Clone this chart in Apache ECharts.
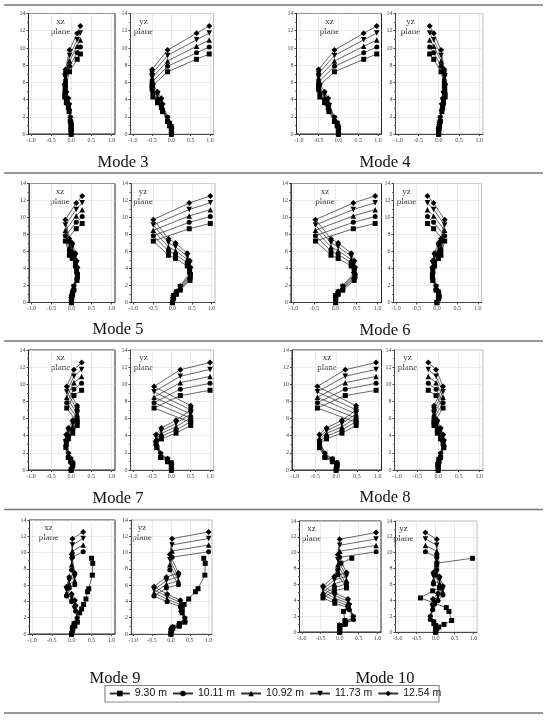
<!DOCTYPE html>
<html>
<head>
<meta charset="utf-8">
<title>Mode shapes 3-10</title>
<script src="https://cdn.jsdelivr.net/npm/echarts@6/dist/echarts.min.js"></script>
<style>
  html, body { margin: 0; padding: 0; background: #fff; }
  #chart { width: 550px; height: 720px; }
</style>
</head>
<body>
<div id="chart"></div>
<script>
// model heights (legend)
const seriesNames = ['9.30 m', '10.11 m', '10.92 m', '11.73 m', '12.54 m'];
const modeNames = ['Mode 3', 'Mode 4', 'Mode 5', 'Mode 6', 'Mode 7', 'Mode 8', 'Mode 9', 'Mode 10'];
const xTicks = [-1, -0.5, 0, 0.5, 1];

// node heights z (m) of every model, bottom to top
const z930  = [0, 0.44, 0.63, 0.96, 1.45, 2.60, 3.08, 3.63, 4.30, 5.19, 5.56, 7.23, 8.68, 9.30];
const z1011 = [0, 0.48, 0.69, 1.05, 1.57, 2.82, 3.35, 3.95, 4.68, 5.64, 6.05, 7.86, 9.43, 10.11];
const z1092 = [0, 0.52, 0.74, 1.13, 1.70, 3.05, 3.61, 4.27, 5.05, 6.10, 6.53, 8.49, 10.19, 10.92];
const z1173 = [0, 0.56, 0.80, 1.22, 1.82, 3.27, 3.88, 4.58, 5.43, 6.55, 7.02, 9.12, 10.94, 11.73];
const z1254 = [0, 0.60, 0.85, 1.30, 1.95, 3.50, 4.15, 4.90, 5.80, 7.00, 7.50, 9.75, 11.70, 12.54];

// normalised modal displacement at each node (same order as z)
const mode3xz = [0, 0, 0, 0, -0.02, -0.05, -0.07, -0.12, -0.16, -0.15, -0.14, -0.04, 0.15, 0.23];
const mode3yz = [0, 0, 0, -0.05, -0.1, -0.23, -0.26, -0.36, -0.48, -0.5, -0.5, -0.1, 0.65, 0.98];
const mode4xz = [0, 0, 0, -0.03, -0.1, -0.24, -0.26, -0.35, -0.47, -0.5, -0.5, -0.1, 0.64, 0.97];
const mode4yz = [0, 0, 0.01, 0.02, 0.04, 0.08, 0.1, 0.12, 0.16, 0.15, 0.14, 0.06, -0.12, -0.22];
const mode5xz = [0, 0, 0.01, 0.03, 0.06, 0.14, 0.15, 0.13, 0.1, 0.02, -0.05, -0.15, 0.12, 0.27];
const mode5yz = [0, 0.02, 0.03, 0.1, 0.2, 0.45, 0.46, 0.44, 0.38, 0.08, -0.1, -0.49, 0.43, 0.97];
const mode6xz = [0, 0, 0, 0.06, 0.17, 0.44, 0.46, 0.44, 0.37, 0.06, -0.11, -0.48, 0.42, 0.94];
const mode6yz = [0, 0.04, 0.05, 0.04, -0.02, -0.1, -0.11, -0.1, -0.06, 0.04, 0.1, 0.19, -0.08, -0.23];
const mode7xz = [0, 0.03, 0.04, -0.01, -0.07, -0.13, -0.12, -0.07, 0.04, 0.15, 0.15, -0.11, 0.07, 0.26];
const mode7yz = [0, 0, 0, -0.1, -0.28, -0.38, -0.4, -0.26, 0.12, 0.5, 0.5, -0.45, 0.23, 1.0];
const mode8xz = [0, 0.02, 0.02, -0.09, -0.27, -0.4, -0.4, -0.23, 0.14, 0.48, 0.48, -0.45, 0.22, 0.96];
const mode8yz = [0, 0, 0, 0.02, 0.06, 0.14, 0.12, 0.06, -0.02, -0.1, -0.1, 0.12, -0.05, -0.24];
const mode9xz = [0, 0.02, 0.02, 0.06, 0.14, 0.1, 0.08, 0.0, -0.13, -0.06, 0.08, 0.0, 0.02, 0.29];
const mode9xz930 = [0, 0.02, 0.03, 0.08, 0.14, 0.2, 0.25, 0.3, 0.36, 0.4, 0.43, 0.52, 0.53, 0.5];
const mode9yz = [0, 0.02, 0.05, 0.22, 0.37, 0.27, 0.25, -0.1, -0.45, -0.12, 0.2, -0.03, 0.03, 1.0];
const mode9yz930 = [0, 0.0, 0.02, 0.22, 0.37, 0.3, 0.3, 0.35, 0.47, 0.65, 0.72, 0.9, 0.91, 0.87];
const mode10xz = [0, 0, 0, 0.16, 0.36, 0.25, 0.22, -0.13, -0.44, -0.14, 0.18, -0.05, 0.0, 0.96];
const mode10xz930 = [0, 0, 0, 0.14, 0.14, 0.1, 0.22, -0.13, -0.44, -0.14, 0.18, -0.05, 0.03, 0.32];
const mode10yz = [0, 0, 0, -0.05, -0.14, -0.08, -0.07, 0.06, 0.19, 0.1, -0.06, 0.03, 0.03, -0.27];
const mode10yz930 = [0, 0.03, 0.08, 0.22, 0.42, 0.35, 0.28, -0.03, -0.4, -0.08, 0.1, 0.0, 0.03, 0.97];

const zLevels = [z930, z1011, z1092, z1173, z1254];
// x values per model (9.30, 10.11, 10.92, 11.73, 12.54)
const modeXZ = [
  [mode3xz, mode3xz, mode3xz, mode3xz, mode3xz],
  [mode4xz, mode4xz, mode4xz, mode4xz, mode4xz],
  [mode5xz, mode5xz, mode5xz, mode5xz, mode5xz],
  [mode6xz, mode6xz, mode6xz, mode6xz, mode6xz],
  [mode7xz, mode7xz, mode7xz, mode7xz, mode7xz],
  [mode8xz, mode8xz, mode8xz, mode8xz, mode8xz],
  [mode9xz930, mode9xz, mode9xz, mode9xz, mode9xz],
  [mode10xz930, mode10xz, mode10xz, mode10xz, mode10xz]
];
const modeYZ = [
  [mode3yz, mode3yz, mode3yz, mode3yz, mode3yz],
  [mode4yz, mode4yz, mode4yz, mode4yz, mode4yz],
  [mode5yz, mode5yz, mode5yz, mode5yz, mode5yz],
  [mode6yz, mode6yz, mode6yz, mode6yz, mode6yz],
  [mode7yz, mode7yz, mode7yz, mode7yz, mode7yz],
  [mode8yz, mode8yz, mode8yz, mode8yz, mode8yz],
  [mode9yz930, mode9yz, mode9yz, mode9yz, mode9yz],
  [mode10yz930, mode10yz, mode10yz, mode10yz, mode10yz]
];

// panel positions: xzLeft, xzRight, yzLeft, yzRight, top, bottom, titleX, titleY, xzLabelDx, yzLabelDx
const layout = [
  [28.5, 115, 130.5, 213.5, 13.5, 134, 123, 163, 32, 13],
  [296.5, 381.5, 395.5, 483, 13.5, 134, 385, 163, 33, 15],
  [29, 115, 131, 215, 183.5, 302.5, 118, 330, 31, 12],
  [291, 381.5, 393.5, 481.5, 183.5, 302.5, 385, 331, 34, 13],
  [28.5, 115, 130.5, 213.5, 350, 470, 118, 499, 32, 13],
  [292, 381.5, 394.5, 483, 350, 470, 385, 498, 35, 13],
  [29.5, 115, 131, 212, 520, 634, 115, 679, 19, 11],
  [299.5, 381, 395.5, 477, 521, 632, 385, 679, 12, 8]
];

const symbols = ['rect', 'circle', 'triangle', 'path://M0,0L10,0L5,9Z', 'diamond'];
const symbolSizes = [5, 5, 5.5, 5.5, 6];

const chart = echarts.init(document.getElementById('chart'));

const grids = [], xAxes = [], yAxes = [], series = [], graphics = [];

function addPanel(idx, left, right, top, bottom, dark, xs) {
  grids.push({
    left: left, top: top, width: right - left, height: bottom - top,
    show: true, borderColor: dark ? '#222' : '#aaa', borderWidth: dark ? 1 : 0.8,
    backgroundColor: 'transparent', containLabel: false
  });
  xAxes.push({
    gridIndex: idx, type: 'value', min: -1.06, max: 1.09,
    axisLine: { show: true, onZero: false, lineStyle: { color: '#222', width: 0.8 } },
    axisTick: { show: true, customValues: xTicks, length: 2, lineStyle: { color: '#444' } },
    axisLabel: {
      customValues: xTicks, fontSize: 6, margin: 3, color: '#444',
      fontFamily: 'Liberation Serif', formatter: v => v.toFixed(1)
    },
    splitLine: { show: true, lineStyle: { color: '#ddd', width: 0.6 } }
  });
  yAxes.push({
    gridIndex: idx, type: 'value', min: 0, max: 14, interval: 2,
    axisLine: { show: true, onZero: false, lineStyle: { color: '#222', width: 0.8 } },
    axisTick: { show: true, length: 2, lineStyle: { color: '#444' } },
    minorTick: { show: true, splitNumber: 2, length: 1.5, lineStyle: { color: '#666' } },
    axisLabel: { fontSize: 6, margin: 3, color: '#444', fontFamily: 'Liberation Serif' },
    splitLine: { show: true, lineStyle: { color: '#ddd', width: 0.6 } }
  });
  for (let s = 0; s < 5; s++) {
    const zs = zLevels[s];
    const data = zs.map((z, i) => [xs[s][i], z]);
    series.push({
      type: 'line', name: seriesNames[s], xAxisIndex: idx, yAxisIndex: idx,
      data: data, symbol: symbols[s], symbolSize: symbolSizes[s],
      showAllSymbol: true, clip: false,
      lineStyle: { color: '#333', width: 0.75 },
      itemStyle: { color: '#000' },
      emphasis: { disabled: true }
    });
  }
}

function planeLabel(text, x, y) {
  graphics.push({
    type: 'text', x: x, y: y,
    style: {
      text: text + '\nplane', fill: '#333', font: '9px "Liberation Serif"',
      textAlign: 'center', lineHeight: 10
    }
  });
}

layout.forEach((p, m) => {
  addPanel(m * 2, p[0], p[1], p[4], p[5], true, modeXZ[m]);
  addPanel(m * 2 + 1, p[2], p[3], p[4], p[5], false, modeYZ[m]);
  planeLabel('xz', p[0] + p[8], p[4] + 3);
  planeLabel('yz', p[2] + p[9], p[4] + 3);
  graphics.push({
    type: 'text', x: p[6], y: p[7],
    style: {
      text: modeNames[m], fill: '#111', font: '16.5px "Liberation Serif"',
      textAlign: 'center', textVerticalAlign: 'middle'
    }
  });
});

// horizontal rules of the figure table
[5, 173, 341, 509.5, 713].forEach(y => {
  graphics.push({
    type: 'line', shape: { x1: 4, y1: y, x2: 543, y2: y },
    style: { stroke: '#777', lineWidth: 1.5 }
  });
});
graphics.push({
  type: 'rect', shape: { x: 105, y: 685.5, width: 334, height: 16.5 },
  style: { fill: 'none', stroke: '#888', lineWidth: 1.2 }
});

const option = {
  animation: false,
  grid: grids,
  xAxis: xAxes,
  yAxis: yAxes,
  series: series,
  graphic: graphics,
  legend: {
    data: seriesNames, left: 'center', top: 688,
    itemWidth: 20, itemHeight: 7, itemGap: 5, padding: 0,
    textStyle: { fontSize: 10.5, fontFamily: 'Liberation Sans', color: '#111' },
    selectedMode: false
  }
};

chart.setOption(option);
</script>
</body>
</html>
